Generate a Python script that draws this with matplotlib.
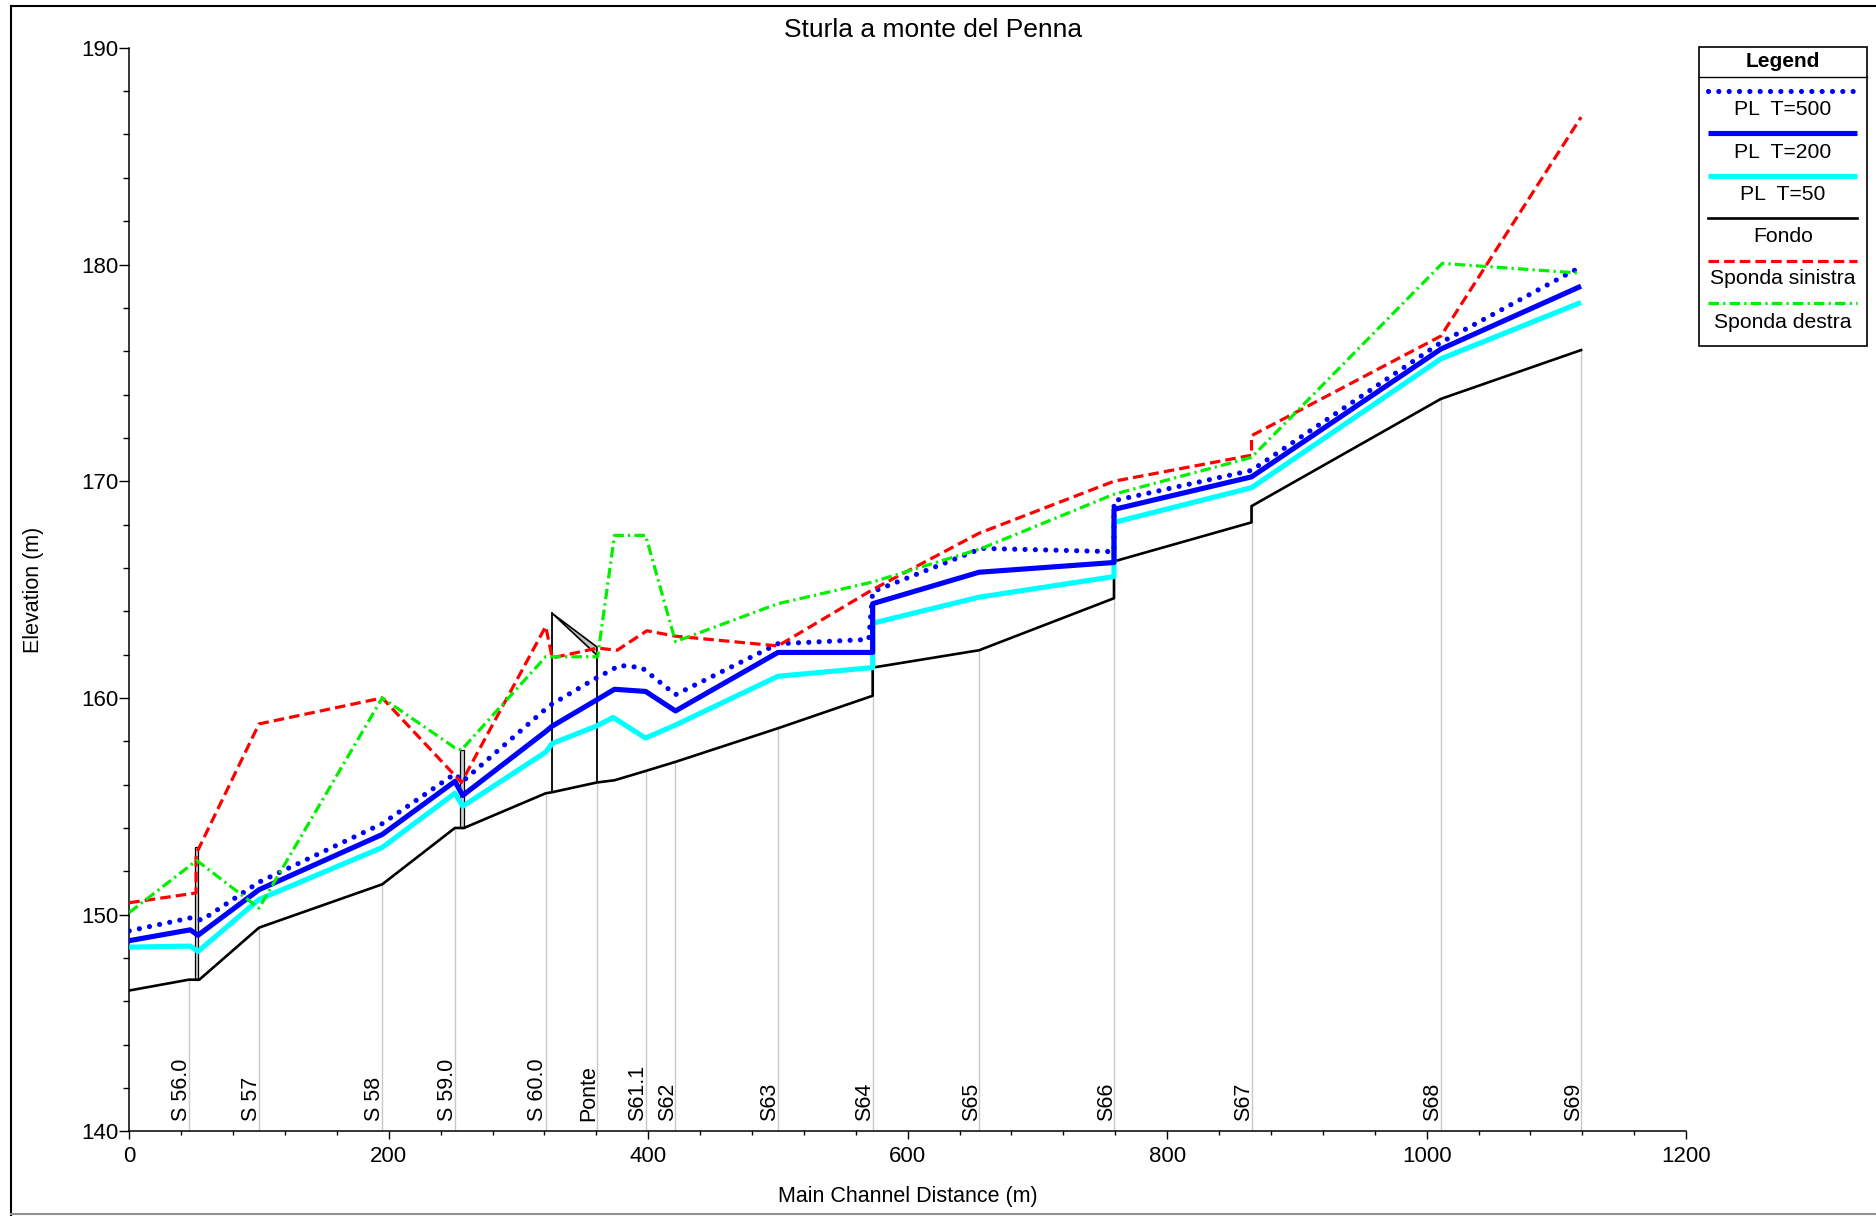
import matplotlib
matplotlib.use("Agg")
import matplotlib.pyplot as plt
from matplotlib.lines import Line2D
from matplotlib.patches import Rectangle, Polygon
import numpy as np

plt.rcParams['font.family'] = ['Liberation Sans', 'DejaVu Sans']

# ---------------- data ----------------
title = "Sturla a monte del Penna"

sec_names = ["S 56.0", "S 57", "S 58", "S 59.0", "S 60.0", "Ponte", "S61.1", "S62",
             "S63", "S64", "S65", "S66", "S67", "S68", "S69"]
sec_dist = [46, 100, 195, 251, 321, 360.5, 398, 421, 500, 573, 655, 759, 865, 1011, 1119]

fondo_x = [0, 46, 54, 100, 195, 251, 258, 321, 326, 360.5, 374, 398, 421, 500, 573, 573,
           655, 759, 759, 865, 865, 1011, 1119]
fondo_y = [146.5, 147.0, 147.0, 149.4, 151.4, 154.0, 154.0, 155.6, 155.65, 156.1, 156.2,
           156.63, 157.05, 158.6, 160.1, 161.4, 162.2, 164.6, 166.3, 168.1, 168.85, 173.8, 176.05]

t500_x = [0, 47, 56, 100, 195, 251, 257, 324, 358, 378, 395, 421, 500, 570, 573, 657,
          759, 759, 865, 1011, 1119]
t500_y = [149.25, 149.85, 149.75, 151.5, 154.2, 156.5, 156.15, 159.65, 160.85, 161.5,
          161.4, 160.15, 162.5, 162.7, 164.9, 166.9, 166.75, 169.1, 170.5, 176.4, 179.9]

t200_x = [0, 47, 53, 100, 195, 251, 257, 321, 326, 360, 374, 398, 421, 500, 573, 573,
          655, 759, 759, 865, 1011, 1119]
t200_y = [148.8, 149.3, 149.05, 151.15, 153.7, 156.15, 155.5, 158.45, 158.7, 159.9, 160.4,
          160.3, 159.4, 162.1, 162.1, 164.35, 165.8, 166.25, 168.7, 170.2, 176.1, 179.0]

t50_x = [0, 47, 53, 100, 195, 251, 257, 321, 326, 360, 373, 398, 421, 500, 573, 573,
         655, 759, 759, 865, 1011, 1119]
t50_y = [148.5, 148.55, 148.3, 150.7, 153.1, 155.6, 155.0, 157.5, 157.9, 158.7, 159.1,
         158.15, 158.75, 161.0, 161.4, 163.45, 164.65, 165.6, 168.1, 169.7, 175.65, 178.25]

sin_x = [0, 51.5, 51.5, 100, 195, 256, 321, 326, 361, 376, 399, 421, 500, 573, 655,
         759, 865, 865, 1011, 1119]
sin_y = [150.55, 151.0, 152.8, 158.8, 160.0, 156.1, 163.3, 161.85, 162.3, 162.2, 163.1,
         162.85, 162.4, 165.0, 167.6, 170.0, 171.2, 172.1, 176.7, 186.8]

des_x = [0, 52, 100, 195, 251, 256, 321, 361, 374, 398, 421, 500, 573, 657, 759, 865,
         1012, 1119]
des_y = [150.1, 152.5, 150.3, 160.0, 157.7, 157.6, 161.9, 161.9, 167.5, 167.5, 162.6,
         164.35, 165.35, 166.9, 169.4, 171.1, 180.05, 179.6]

weir_x = [51.5, 256.5]
weir_bot = [147.0, 154.0]
weir_top = [153.1, 157.6]

bridge_x = [326, 360.5]
bridge_bot = [155.65, 156.1]
bridge_hi = [163.9, 162.35]
bridge_lo = [163.9, 161.97]

# ---------------- styles ----------------
styles = {
    'T500': dict(color='#0000ff', lw=3.7, ls=(0, (0.01, 2.0)), dash_capstyle='round'),
    'T200': dict(color='#0000ff', lw=3.7, ls='-', solid_capstyle='butt'),
    'T50': dict(color='#00ffff', lw=3.7, ls='-', solid_capstyle='butt'),
    'Fondo': dict(color='black', lw=1.9, ls='-'),
    'Sin': dict(color='#ff0000', lw=2.3, ls=(0, (3.3, 1.6))),
    'Des': dict(color='#00f000', lw=2.3, ls=(0, (3.3, 1.3, 0.7, 1.3))),
}

fig = plt.figure(figsize=(18.76, 12.16), dpi=100)
ax = fig.add_axes([0.0689, 0.0696, 0.8299, 0.8911])

ax.set_xlim(0, 1200)
ax.set_ylim(140, 190)

# section lines and labels
fondo_at = np.interp(sec_dist, fondo_x, fondo_y)
for d, top, name in zip(sec_dist, fondo_at, sec_names):
    ax.plot([d, d], [140, top], color='#c8c8c8', lw=1.0, zorder=1)
    ax.text(d + 2.0, 140.5, name, rotation=90, ha='right', va='bottom', fontsize=15.5,
            zorder=6)

# structures
for x, b, t in zip(weir_x, weir_bot, weir_top):
    ax.add_patch(Rectangle((x - 1.2, b), 2.4, t - b, facecolor='#d0d0d0',
                           edgecolor='black', lw=0.9, zorder=2))
for x, b, t in zip(bridge_x, bridge_bot, bridge_lo):
    ax.plot([x, x], [b, t], color='black', lw=1.3, zorder=2)
deck = Polygon([[bridge_x[0], bridge_hi[0]], [bridge_x[1], bridge_hi[1]],
                [bridge_x[1], bridge_lo[1]]], closed=True, facecolor='#c0c0c0',
               edgecolor='black', lw=1.2, zorder=2)
ax.add_patch(deck)

ax.plot(fondo_x, fondo_y, zorder=3, **styles['Fondo'])
ax.plot(t50_x, t50_y, zorder=3, **styles['T50'])
ax.plot(t200_x, t200_y, zorder=4, **styles['T200'])
ax.plot(t500_x, t500_y, zorder=4, **styles['T500'])
ax.plot(sin_x, sin_y, zorder=5, **styles['Sin'])
ax.plot(des_x, des_y, zorder=5, **styles['Des'])

# axes cosmetics
for s in ['top', 'right']:
    ax.spines[s].set_visible(False)
for s in ['left', 'bottom']:
    ax.spines[s].set_linewidth(1.1)
ax.set_xticks(np.arange(0, 1201, 200))
ax.set_xticks(np.arange(0, 1201, 40), minor=True)
ax.set_yticks(np.arange(140, 191, 10))
ax.set_yticks(np.arange(140, 191, 2), minor=True)
ax.tick_params(axis='y', which='major', length=7, width=1.0, pad=0.8, labelsize=16)
ax.tick_params(axis='y', which='minor', length=4, width=1.0)
ax.tick_params(axis='x', which='major', length=5.5, width=1.0, pad=5, labelsize=16)
ax.tick_params(axis='x', which='minor', length=3.2, width=1.0)

fig.text(0.4973, 0.9754, title, ha='center', va='center', fontsize=19)
fig.text(0.484, 0.0164, "Main Channel Distance (m)", ha='center', va='center', fontsize=15.5)
fig.text(0.0179, 0.515, "Elevation (m)", ha='center', va='center', rotation=90, fontsize=15.5)

# figure frame
fig.add_artist(Line2D([0.0058, 0.0058], [0.0, 0.995], color='black', lw=1.5))
fig.add_artist(Line2D([0.0058, 1.0], [0.995, 0.995], color='black', lw=1.5))
fig.add_artist(Line2D([0.0058, 1.0], [0.002, 0.002], color='#909090', lw=1.5))

# legend (custom box)
lx0, lx1, ly0, ly1 = 1699, 1866.7, 47.3, 346
lax = fig.add_axes([lx0 / 1876, 1 - ly1 / 1216, (lx1 - lx0) / 1876, (ly1 - ly0) / 1216])
lax.set_xlim(lx0, lx1)
lax.set_ylim(ly1, ly0)
lax.axis('off')
lax.add_patch(Rectangle((lx0, ly0), lx1 - lx0, ly1 - ly0, fill=False, ec='black',
                        lw=1.2, clip_on=False))
lax.plot([lx0, lx1], [77.3, 77.3], color='black', lw=1.0, clip_on=False)
cx = (lx0 + lx1) / 2
lax.text(cx, 61.5, "Legend", ha='center', va='center', fontsize=15, fontweight='bold')
leg_keys = ['T500', 'T200', 'T50', 'Fondo', 'Sin', 'Des']
leg_labels = ["PL  T=500", "PL  T=200", "PL  T=50", "Fondo", "Sponda sinistra",
              "Sponda destra"]
line_y = [90.7, 133.3, 175.7, 218.3, 260.7, 303.3]
text_y = [109.3, 152.3, 194.0, 236.7, 279.0, 322.7]
for k, lab, yl, yt in zip(leg_keys, leg_labels, line_y, text_y):
    lax.plot([1708, 1857], [yl, yl], **styles[k])
    lax.text(cx, yt, lab, ha='center', va='center', fontsize=15.2)

fig.savefig("out.png", dpi=100)
